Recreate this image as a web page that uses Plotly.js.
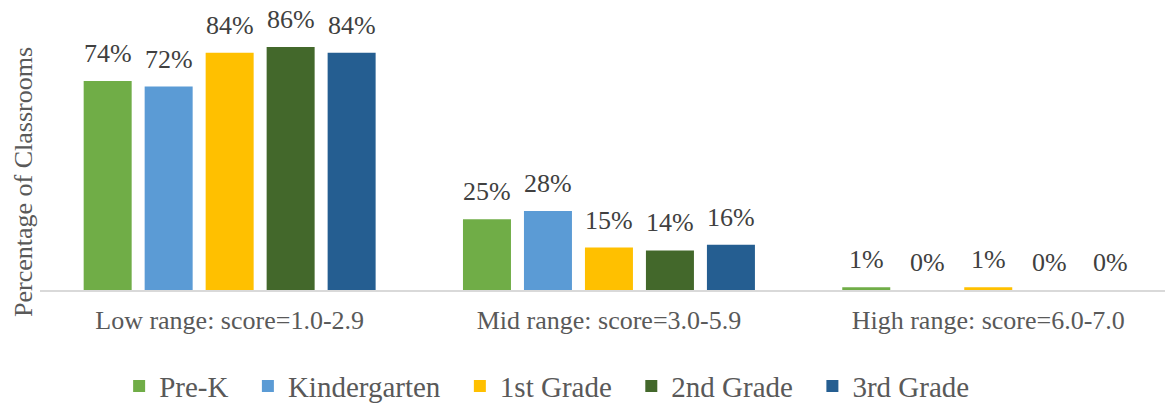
<!DOCTYPE html>
<html>
<head>
<meta charset="utf-8">
<script src="https://cdn.plot.ly/plotly-3.0.1.min.js"></script>
<style>html,body{margin:0;padding:0;background:#fff;}#chart{width:1165px;height:406px;}</style>
</head>
<body>
<div id="chart"></div>
<script>
// ---- data ----
const categories = ["Low range: score=1.0-2.9", "Mid range: score=3.0-5.9", "High range: score=6.0-7.0"];
const seriesNames = ["Pre-K", "Kindergarten", "1st Grade", "2nd Grade", "3rd Grade"];
const preK = [74, 25, 1];
const kindergarten = [72, 28, 0];
const grade1 = [84, 15, 1];
const grade2 = [86, 14, 0];
const grade3 = [84, 16, 0];
const yTitle = "Percentage of Classrooms";

// ---- styles ----
const colors = ["#70AD47", "#5B9BD5", "#FFC000", "#43682B", "#255E91"];
const FONT = 'Liberation Serif';
const allSeries = [preK, kindergarten, grade1, grade2, grade3];

const W = 1165, H = 406;
const margin = {l: 40, r: 0, t: 10, b: 116};
const xRange = [-0.5, 2.466];
const bargap = 0.196;
const plotW = W - margin.l - margin.r;
const pxPerCat = plotW / (xRange[1] - xRange[0]);
const slot = pxPerCat * (1 - bargap) / allSeries.length;
const legendPad = "\u00a0\u00a0"; // extra spacing between legend entries

const traces = allSeries.map((vals, j) => ({
  type: "bar",
  name: seriesNames[j] + legendPad,
  x: categories,
  y: vals,
  marker: {color: colors[j]},
  hoverinfo: "none"
}));

const annotations = [];
allSeries.forEach((vals, j) => {
  vals.forEach((v, i) => {
    annotations.push({
      x: categories[i], y: v, xref: "x", yref: "y",
      text: v + "%", showarrow: false,
      xanchor: "center", yanchor: "bottom",
      xshift: (j - (allSeries.length - 1) / 2) * slot,
      yshift: 11,
      font: {family: FONT, size: 26, color: "#404040"}
    });
  });
});
annotations.push({
  xref: "paper", yref: "paper", x: -0.0142, y: 0.386,
  text: yTitle, textangle: -90, showarrow: false,
  xanchor: "center", yanchor: "middle",
  font: {family: FONT, size: 26, color: "#595959"}
});

const layout = {
  width: W, height: H,
  margin: margin,
  font: {family: FONT},
  paper_bgcolor: "#ffffff", plot_bgcolor: "#ffffff",
  barmode: "group",
  bargap: bargap,
  bargroupgap: 0.213,
  showlegend: true,
  legend: {
    orientation: "h", xref: "paper", yref: "container",
    x: 0.457, xanchor: "center", y: 0.112, yanchor: "top",
    font: {family: FONT, size: 29, color: "#595959"},
    traceorder: "normal"
  },
  xaxis: {
    type: "category", range: xRange,
    showline: true, linecolor: "#D9D9D9", linewidth: 1.5,
    showgrid: false, zeroline: false, ticks: "",
    ticklabelstandoff: 6,
    tickfont: {family: FONT, size: 26, color: "#595959"},
    fixedrange: true
  },
  yaxis: {
    range: [0, 99.1], showgrid: false, zeroline: false, showline: false,
    showticklabels: false, ticks: "", fixedrange: true
  },
  annotations: annotations
};

Plotly.newPlot("chart", traces, layout, {displayModeBar: false, staticPlot: true});
</script>
</body>
</html>
